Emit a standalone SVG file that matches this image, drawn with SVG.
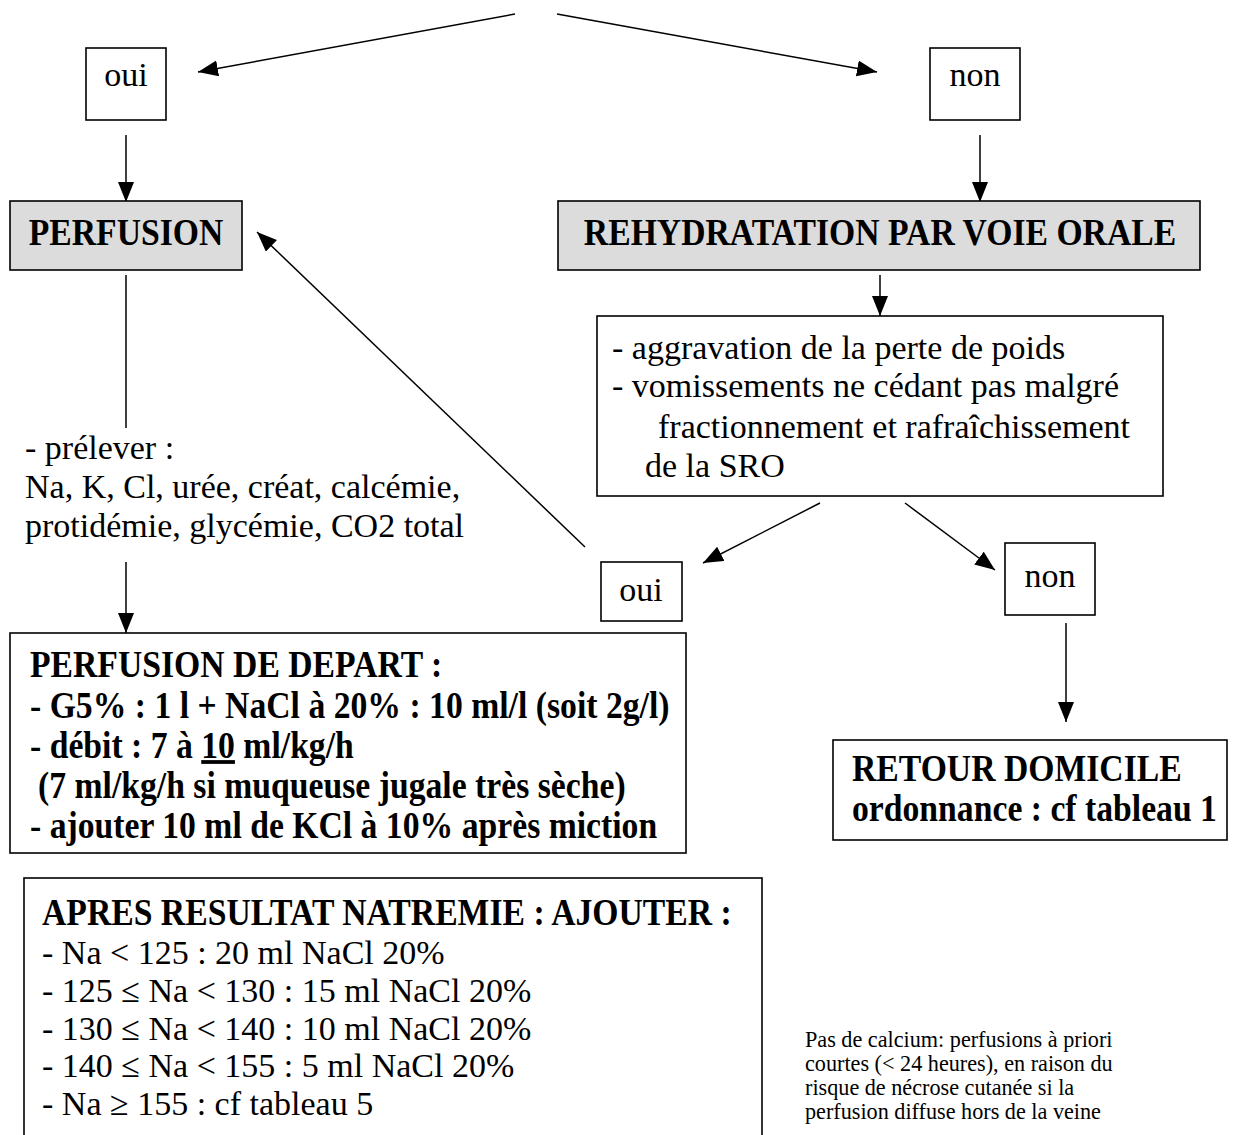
<svg xmlns="http://www.w3.org/2000/svg" width="1241" height="1135" viewBox="0 0 1241 1135">
<style>
.t{font-family:"Liberation Serif","Times New Roman",serif;font-size:34px;fill:#000}
.b{font-weight:bold;font-size:33.7px}
.s{font-family:"Liberation Serif","Times New Roman",serif;font-size:22.2px;fill:#000}
.box{fill:#fff;stroke:#000;stroke-width:1.6}
.grey{fill:#dcdcdc;stroke:#000;stroke-width:1.6}
.ln{stroke:#000;stroke-width:1.5;fill:none}
</style>
<defs>
<marker id="ah" markerUnits="userSpaceOnUse" markerWidth="24" markerHeight="18" refX="20" refY="8" orient="auto">
<path d="M0,0 L20,8 L0,16 Z" fill="#000"/>
</marker>
</defs>
<rect width="1241" height="1135" fill="#fff"/>
<g id="connectors">
<line class="ln" x1="515" y1="14" x2="198" y2="72" marker-end="url(#ah)"/>
<line class="ln" x1="557" y1="14" x2="877" y2="72" marker-end="url(#ah)"/>
<line class="ln" x1="126" y1="135" x2="126" y2="202" marker-end="url(#ah)"/>
<line class="ln" x1="980" y1="135" x2="980" y2="202" marker-end="url(#ah)"/>
<line class="ln" x1="126" y1="275" x2="126" y2="428"/>
<line class="ln" x1="126" y1="562" x2="126" y2="633" marker-end="url(#ah)"/>
<line class="ln" x1="585" y1="547" x2="257" y2="232" marker-end="url(#ah)"/>
<line class="ln" x1="880" y1="275" x2="880" y2="316" marker-end="url(#ah)"/>
<line class="ln" x1="820" y1="503" x2="703" y2="563" marker-end="url(#ah)"/>
<line class="ln" x1="905" y1="503" x2="995" y2="570" marker-end="url(#ah)"/>
<line class="ln" x1="1066" y1="623" x2="1066" y2="722" marker-end="url(#ah)"/>
</g>
<g id="oui1">
<rect class="box" x="86" y="48" width="80" height="72"/>
<text class="t" x="126" y="86" text-anchor="middle">oui</text>
</g>
<g id="non1">
<rect class="box" x="930" y="48" width="90" height="72"/>
<text class="t" x="975" y="86" text-anchor="middle">non</text>
</g>
<g id="perfusion">
<rect class="grey" x="10" y="201" width="232" height="69"/>
<text class="t b" transform="translate(126 245) scale(1 1.12)" text-anchor="middle">PERFUSION</text>
</g>
<g id="rehydratation">
<rect class="grey" x="558" y="201" width="642" height="69"/>
<text class="t b" transform="translate(880 245) scale(1 1.12)" text-anchor="middle">REHYDRATATION PAR VOIE ORALE</text>
</g>
<g id="prelever">
<text class="t" x="25" y="459">- prélever :</text>
<text class="t" x="25" y="498">Na, K, Cl, urée, créat, calcémie,</text>
<text class="t" x="25" y="537">protidémie, glycémie, CO2 total</text>
</g>
<g id="criteres">
<rect class="box" x="597" y="316" width="566" height="180"/>
<text class="t" x="612" y="359">- aggravation de la perte de poids</text>
<text class="t" x="612" y="397">- vomissements ne cédant pas malgré</text>
<text class="t" x="658" y="438">fractionnement et rafraîchissement</text>
<text class="t" x="645" y="477">de la SRO</text>
</g>
<g id="oui2">
<rect class="box" x="601" y="562" width="81" height="59"/>
<text class="t" x="641" y="601" text-anchor="middle">oui</text>
</g>
<g id="non2">
<rect class="box" x="1005" y="543" width="90" height="72"/>
<text class="t" x="1050" y="587" text-anchor="middle">non</text>
</g>
<g id="depart">
<rect class="box" x="10" y="633" width="676" height="220"/>
<text class="t b" transform="translate(30 677) scale(1 1.12)">PERFUSION DE DEPART :</text>
<text class="t b" transform="translate(30 718) scale(1 1.12)">- G5% : 1 l + NaCl à 20% : 10 ml/l (soit 2g/l)</text>
<text class="t b" transform="translate(30 758) scale(1 1.12)">- débit : 7 à <tspan text-decoration="underline">10</tspan> ml/kg/h</text>
<text class="t b" transform="translate(38 798) scale(1 1.12)">(7 ml/kg/h si muqueuse jugale très sèche)</text>
<text class="t b" transform="translate(30 838) scale(1 1.12)">- ajouter 10 ml de KCl à 10% après miction</text>
</g>
<g id="retour">
<rect class="box" x="833" y="740" width="394" height="100"/>
<text class="t b" transform="translate(852 781) scale(1 1.12)">RETOUR DOMICILE</text>
<text class="t b" transform="translate(852 821) scale(1 1.12)">ordonnance : cf tableau 1</text>
</g>
<g id="natremie">
<rect class="box" x="24" y="878" width="738" height="270"/>
<text class="t b" transform="translate(42 925) scale(1 1.12)">APRES RESULTAT NATREMIE : AJOUTER :</text>
<text class="t" x="42" y="964">- Na &lt; 125 : 20 ml NaCl 20%</text>
<text class="t" x="42" y="1002">- 125 ≤ Na  &lt; 130 : 15 ml NaCl 20%</text>
<text class="t" x="42" y="1040">- 130 ≤ Na &lt; 140 : 10 ml NaCl 20%</text>
<text class="t" x="42" y="1077">- 140 ≤ Na &lt; 155 : 5 ml NaCl 20%</text>
<text class="t" x="42" y="1115">- Na ≥ 155 : cf tableau 5</text>
</g>
<g id="note">
<text class="s" x="805" y="1047">Pas de calcium: perfusions à priori</text>
<text class="s" x="805" y="1071">courtes (&lt; 24 heures),  en raison du</text>
<text class="s" x="805" y="1095">risque de nécrose cutanée si la</text>
<text class="s" x="805" y="1119">perfusion diffuse hors de la veine</text>
</g>
</svg>
